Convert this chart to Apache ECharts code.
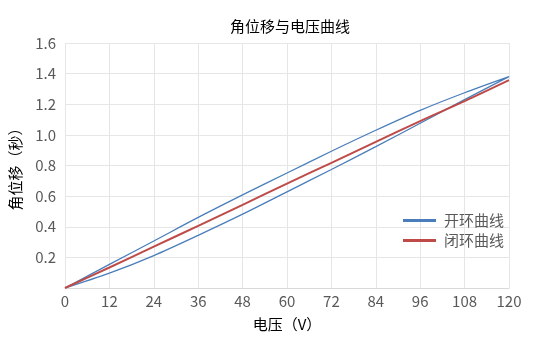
<!DOCTYPE html>
<html>
<head>
<meta charset="utf-8">
<script src="https://cdn.jsdelivr.net/npm/echarts@6/dist/echarts.min.js"></script>
<style>
  html, body { margin: 0; padding: 0; background: #fff; }
  #chart { width: 542px; height: 342px; }
</style>
</head>
<body>
<div id="chart"></div>
<script>
// Voltage samples (V)
const voltage = [0, 12, 24, 36, 48, 60, 72, 84, 96, 108, 120];
// Open loop: rising branch and falling branch of the hysteresis loop
const openRising = [0, 0.097, 0.212, 0.344, 0.482, 0.628, 0.774, 0.923, 1.076, 1.230, 1.380];
const openFalling = [0, 0.154, 0.307, 0.461, 0.608, 0.751, 0.893, 1.030, 1.160, 1.275, 1.380];
// Closed loop curve
const closedLoop = [0, 0.134, 0.270, 0.406, 0.543, 0.682, 0.817, 0.954, 1.090, 1.220, 1.357];
// Axis ticks
const xTicks = { min: 0, max: 120, interval: 12 };
const yTicks = { min: 0, max: 1.6, interval: 0.2 };

const font = '"Noto Sans CJK SC", "Microsoft YaHei", sans-serif';

// Walk up the rising branch, then back down the falling branch
const openLoopData = voltage.map((v, i) => [v, openRising[i]])
  .concat(voltage.slice(0, -1).reverse().map((v, k) => {
    const i = voltage.length - 2 - k;
    return [voltage[i], openFalling[i]];
  }));
const closedLoopData = voltage.map((v, i) => [v, closedLoop[i]]);

const chart = echarts.init(document.getElementById('chart'), null, { renderer: 'canvas' });
chart.setOption({
  animation: false,
  backgroundColor: '#fff',
  title: {
    text: '角位移与电压曲线',
    left: 285, top: 14, textAlign: 'center',
    textStyle: { fontFamily: font, fontSize: 15, fontWeight: 'normal', color: '#000' }
  },
  legend: {
    left: 398, top: 208, orient: 'vertical',
    itemWidth: 33, itemHeight: 14, itemGap: 5,
    icon: 'path://M0,0 L33,0 L33,3 L0,3 Z',
    textStyle: { fontFamily: font, fontSize: 15, color: '#595959', padding: [0, 0, 0, 3] },
    data: ['开环曲线', '闭环曲线']
  },
  grid: { left: 60, right: 33, top: 43, bottom: 54, containLabel: false },
  xAxis: {
    type: 'value', min: xTicks.min, max: xTicks.max, interval: xTicks.interval,
    name: '电压（V）', nameLocation: 'middle', nameGap: 29,
    nameTextStyle: { fontFamily: font, fontSize: 15, color: '#000' },
    axisLine: { show: true, lineStyle: { color: '#d9d9d9', width: 1 } },
    axisTick: { show: false },
    axisLabel: { fontFamily: font, fontSize: 15, color: '#595959', margin: 6 },
    splitLine: { show: true, lineStyle: { color: '#e6e6e6', width: 1 } }
  },
  yAxis: {
    type: 'value', min: yTicks.min, max: yTicks.max, interval: yTicks.interval,
    name: '角位移（秒）', nameLocation: 'middle', nameGap: 42, nameRotate: 90,
    nameTextStyle: { fontFamily: font, fontSize: 15, color: '#000' },
    axisLine: { show: false },
    axisTick: { show: false },
    axisLabel: {
      fontFamily: font, fontSize: 15, color: '#595959', margin: 9,
      showMinLabel: false,
      formatter: v => v.toFixed(1)
    },
    splitLine: { show: true, lineStyle: { color: '#e6e6e6', width: 1 } }
  },
  series: [
    {
      name: '开环曲线', type: 'line', data: openLoopData,
      smooth: 0.3, showSymbol: false, symbol: 'none',
      lineStyle: { color: '#4a7ebb', width: 1.3 },
      itemStyle: { color: '#4a7ebb' }
    },
    {
      name: '闭环曲线', type: 'line', data: closedLoopData,
      smooth: 0.3, showSymbol: false, symbol: 'none',
      lineStyle: { color: '#be4b48', width: 2 },
      itemStyle: { color: '#be4b48' }
    }
  ]
});
</script>
</body>
</html>
